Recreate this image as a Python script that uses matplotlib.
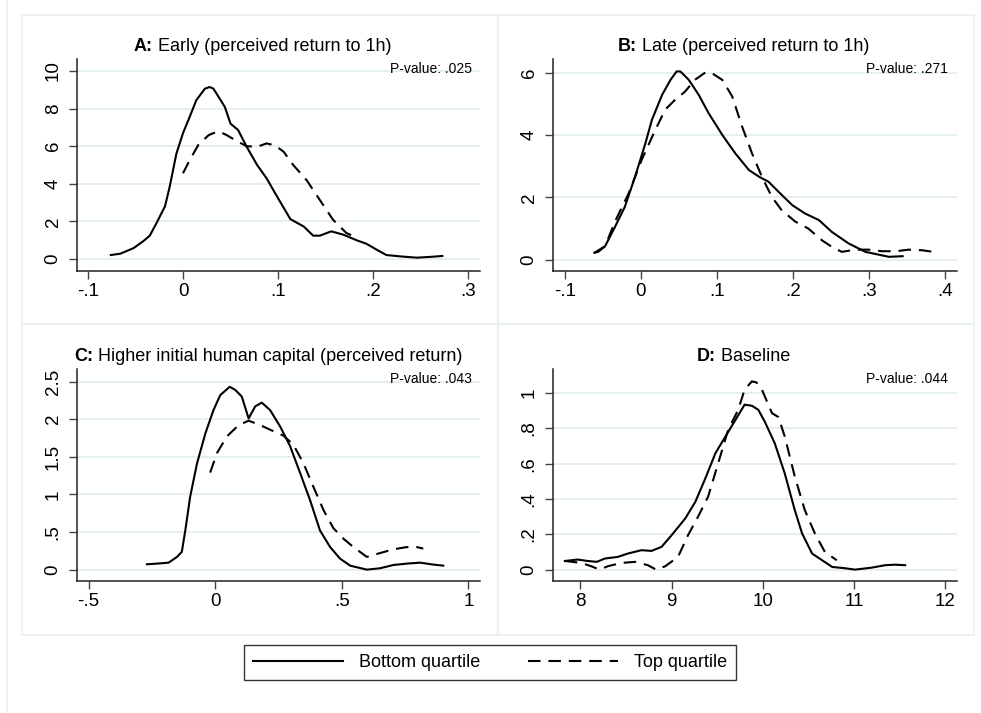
import matplotlib
matplotlib.use("Agg")
import matplotlib.pyplot as plt
from matplotlib.lines import Line2D
from matplotlib.patches import Rectangle

plt.rcParams["font.family"] = ["Liberation Sans", "DejaVu Sans"]

W, H = 981, 713

# ---- data (x, density) ----
a_bottom_x = [-0.076, -0.066, -0.052, -0.042, -0.035, -0.028, -0.019, -0.014, -0.007, 0.0,
              0.007, 0.014, 0.023, 0.028, 0.032, 0.037, 0.044, 0.050, 0.058, 0.067,
              0.078, 0.088, 0.099, 0.113, 0.127, 0.137, 0.144, 0.156, 0.169, 0.183,
              0.193, 0.204, 0.214, 0.228, 0.246, 0.260, 0.273]
a_bottom_y = [0.21, 0.28, 0.58, 0.94, 1.24, 1.9, 2.8, 3.85, 5.6, 6.7,
              7.56, 8.45, 9.06, 9.15, 9.06, 8.66, 8.09, 7.2, 6.86, 5.97,
              5.0, 4.29, 3.32, 2.12, 1.73, 1.24, 1.24, 1.47, 1.29, 0.99,
              0.81, 0.49, 0.21, 0.14, 0.07, 0.11, 0.16]
a_top_x = [0.0, 0.007, 0.016, 0.027, 0.037, 0.046, 0.056, 0.067, 0.078, 0.088,
           0.097, 0.106, 0.116, 0.130, 0.144, 0.158, 0.172, 0.184]
a_top_y = [4.56, 5.26, 6.06, 6.59, 6.8, 6.59, 6.29, 6.0, 5.97, 6.15,
           6.04, 5.7, 5.0, 4.2, 3.14, 2.08, 1.38, 1.11]

b_bottom_x = [-0.061, -0.056, -0.047, -0.034, -0.021, -0.0075, 0.006, 0.0145, 0.028, 0.039,
              0.047, 0.052, 0.063, 0.076, 0.089, 0.107, 0.124, 0.142, 0.155, 0.168,
              0.181, 0.199, 0.216, 0.234, 0.251, 0.273, 0.295, 0.326, 0.344]
b_bottom_y = [0.22, 0.25, 0.43, 1.05, 1.7, 2.67, 3.74, 4.49, 5.3, 5.78,
              6.05, 6.05, 5.78, 5.3, 4.71, 4.01, 3.42, 2.88, 2.67, 2.5,
              2.18, 1.75, 1.48, 1.27, 0.89, 0.52, 0.25, 0.09, 0.11]
b_top_x = [-0.061, -0.047, -0.034, -0.016, 0.001, 0.019, 0.032, 0.045, 0.058, 0.071,
           0.085, 0.093, 0.107, 0.120, 0.133, 0.146, 0.159, 0.172, 0.185, 0.203,
           0.220, 0.238, 0.251, 0.264, 0.282, 0.299, 0.317, 0.335, 0.352, 0.370, 0.387]
b_top_y = [0.22, 0.43, 1.22, 2.13, 3.2, 4.17, 4.82, 5.14, 5.4, 5.78,
           6.02, 6.0, 5.78, 5.25, 4.28, 3.42, 2.67, 2.02, 1.59, 1.22,
           1.0, 0.62, 0.41, 0.25, 0.32, 0.32, 0.27, 0.27, 0.32, 0.30, 0.24]

c_bottom_x = [-0.27, -0.23, -0.184, -0.151, -0.132, -0.118, -0.099, -0.072, -0.039, -0.007,
              0.020, 0.057, 0.079, 0.105, 0.132, 0.158, 0.184, 0.217, 0.257, 0.296,
              0.336, 0.375, 0.414, 0.454, 0.493, 0.533, 0.599, 0.651, 0.704, 0.757,
              0.809, 0.862, 0.901]
c_bottom_y = [0.071, 0.08, 0.093, 0.169, 0.236, 0.524, 0.969, 1.41, 1.81, 2.12,
              2.32, 2.43, 2.39, 2.30, 2.01, 2.17, 2.22, 2.12, 1.90, 1.64,
              1.28, 0.92, 0.52, 0.30, 0.147, 0.053, 0.0, 0.018, 0.062, 0.08,
              0.093, 0.067, 0.053]
c_top_x = [-0.020, 0.007, 0.046, 0.092, 0.132, 0.178, 0.230, 0.270, 0.309, 0.349,
           0.388, 0.428, 0.467, 0.507, 0.546, 0.599, 0.651, 0.704, 0.757, 0.796, 0.822]
c_top_y = [1.29, 1.55, 1.77, 1.92, 1.98, 1.92, 1.84, 1.78, 1.66, 1.41,
           1.10, 0.79, 0.55, 0.41, 0.30, 0.169, 0.22, 0.27, 0.30, 0.30, 0.28]

d_bottom_x = [7.83, 7.97, 8.08, 8.18, 8.27, 8.41, 8.52, 8.67, 8.78, 8.89,
              9.0, 9.15, 9.26, 9.37, 9.48, 9.59, 9.70, 9.80, 9.88, 9.95,
              10.02, 10.13, 10.24, 10.35, 10.43, 10.54, 10.65, 10.76, 10.90, 11.01,
              11.19, 11.34, 11.45, 11.56]
d_bottom_y = [0.049, 0.057, 0.049, 0.044, 0.063, 0.072, 0.091, 0.11, 0.106, 0.129,
              0.195, 0.29, 0.384, 0.517, 0.659, 0.754, 0.848, 0.934, 0.928, 0.905,
              0.839, 0.716, 0.545, 0.337, 0.205, 0.091, 0.053, 0.015, 0.008, 0.0,
              0.011, 0.025, 0.028, 0.025]
d_top_x = [7.83, 8.01, 8.12, 8.21, 8.30, 8.45, 8.60, 8.74, 8.83, 8.93,
           9.07, 9.18, 9.29, 9.40, 9.51, 9.62, 9.73, 9.80, 9.88, 9.93,
           9.99, 10.10, 10.17, 10.24, 10.35, 10.46, 10.57, 10.68, 10.81]
d_top_y = [0.049, 0.038, 0.019, 0.0, 0.019, 0.038, 0.044, 0.025, 0.0, 0.019,
           0.072, 0.195, 0.30, 0.413, 0.602, 0.792, 0.905, 1.019, 1.066, 1.06,
           1.019, 0.886, 0.864, 0.754, 0.527, 0.337, 0.205, 0.10, 0.053]

panels = [
    dict(tag="A:", title=" Early (perceived return to 1h)", pval="P-value: .025",
         bx=a_bottom_x, by=a_bottom_y, tx=a_top_x, ty=a_top_y,
         xticks=[-0.1, 0, 0.1, 0.2, 0.3], xlabels=["-.1", "0", ".1", ".2", ".3"],
         yticks=[0, 2, 4, 6, 8, 10], ylabels=["0", "2", "4", "6", "8", "10"],
         xlim=(-0.1116, 0.3126), ylim=(-0.64, 10.64)),
    dict(tag="B:", title=" Late (perceived return to 1h)", pval="P-value: .271",
         bx=b_bottom_x, by=b_bottom_y, tx=b_top_x, ty=b_top_y,
         xticks=[-0.1, 0, 0.1, 0.2, 0.3, 0.4], xlabels=["-.1", "0", ".1", ".2", ".3", ".4"],
         yticks=[0, 2, 4, 6], ylabels=["0", "2", "4", "6"],
         xlim=(-0.1154, 0.4154), ylim=(-0.366, 6.45)),
    dict(tag="C:", title=" Higher initial human capital (perceived return)", pval="P-value: .043",
         bx=c_bottom_x, by=c_bottom_y, tx=c_top_x, ty=c_top_y,
         xticks=[-0.5, 0, 0.5, 1], xlabels=["-.5", "0", ".5", "1"],
         yticks=[0, 0.5, 1, 1.5, 2, 2.5], ylabels=["0", ".5", "1", "1.5", "2", "2.5"],
         xlim=(-0.546, 1.046), ylim=(-0.151, 2.667)),
    dict(tag="D:", title=" Baseline", pval="P-value: .044",
         bx=d_bottom_x, by=d_bottom_y, tx=d_top_x, ty=d_top_y,
         xticks=[8, 9, 10, 11, 12], xlabels=["8", "9", "10", "11", "12"],
         yticks=[0, 0.2, 0.4, 0.6, 0.8, 1.0], ylabels=["0", ".2", ".4", ".6", ".8", "1"],
         xlim=(7.70, 12.128), ylim=(-0.0644, 1.136)),
]

# pixel layout: axes box (left, top, right, bottom), title left x, title baseline, pval right x, pval baseline
layout = [
    ((77, 59, 480, 271), 134, 51, 472, 73),
    ((553, 59, 957, 271), 618, 51, 948, 73),
    ((77, 369, 480, 581), 74, 361, 472, 383),
    ((553, 369, 957, 581), 697, 361, 948, 383),
]

GRID = "#e6eff0"
BORDER = "#e8f0f0"
DASH = (0, (6, 3.8))


def fx(px):
    return px / W


def fy(py):
    return 1 - py / H


fig = plt.figure(figsize=(W / 100, H / 100), dpi=100)

# faint panel borders
for (x0, y0, x1, y1) in [(22, 15, 498, 324), (498, 15, 974, 324),
                         (22, 324, 498, 635), (498, 324, 974, 635)]:
    fig.patches.append(Rectangle((fx(x0), fy(y1)), fx(x1 - x0), (y1 - y0) / H,
                                 transform=fig.transFigure, fill=False,
                                 edgecolor=BORDER, linewidth=1.2))
fig.lines.append(Line2D([fx(7), fx(7)], [0, 1], transform=fig.transFigure,
                        color=BORDER, linewidth=1.2))

for p, (box, tx0, tbase, px1, pbase) in zip(panels, layout):
    l, t, r, b = box
    ax = fig.add_axes([fx(l), fy(b), fx(r - l), (b - t) / H])
    ax.plot(p["bx"], p["by"], color="black", linewidth=1.5)
    ax.plot(p["tx"], p["ty"], color="black", linewidth=1.5, linestyle=DASH)
    ax.set_xlim(*p["xlim"])
    ax.set_ylim(*p["ylim"])
    ax.set_xticks(p["xticks"])
    ax.set_xticklabels(p["xlabels"])
    ax.set_yticks(p["yticks"])
    ax.set_yticklabels(p["ylabels"], rotation=90, va="center")
    ax.yaxis.grid(True, color=GRID, linewidth=1.4)
    ax.set_axisbelow(True)
    for s in ["top", "right"]:
        ax.spines[s].set_visible(False)
    for s in ["left", "bottom"]:
        ax.spines[s].set_linewidth(1.1)
        ax.spines[s].set_color("#222222")
    ax.tick_params(axis="both", length=6, width=1.0, color="#444444", labelsize=13.5)
    ax.tick_params(axis="x", pad=3)
    ax.tick_params(axis="y", pad=5)

    # title: bold tag followed by normal text
    t1 = fig.text(fx(tx0), fy(tbase), p["tag"], fontsize=13, fontweight="bold",
                  ha="left", va="baseline")
    ax.annotate(p["title"], xy=(1, 0), xycoords=t1, fontsize=13,
                ha="left", va="bottom", annotation_clip=False)
    fig.text(fx(px1), fy(pbase), p["pval"], fontsize=10, ha="right", va="baseline")

handles = [Line2D([], [], color="black", linewidth=1.5),
           Line2D([], [], color="black", linewidth=1.5, linestyle=DASH)]
leg = fig.legend(handles, ["Bottom quartile", "Top quartile"], loc="center",
                 bbox_to_anchor=(fx(490), fy(662.5)), ncol=2, fontsize=13,
                 frameon=True, fancybox=False, handlelength=5.0, handletextpad=0.9,
                 columnspacing=2.6, borderpad=0.5)
leg.get_frame().set_edgecolor("black")
leg.get_frame().set_linewidth(1.0)

fig.savefig("out.png", dpi=100)
